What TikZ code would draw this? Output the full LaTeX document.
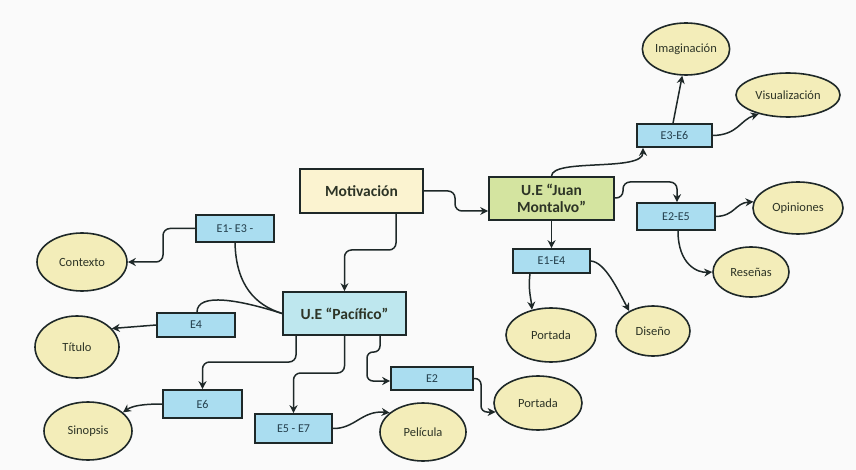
\documentclass[tikz,border=0pt]{standalone}
\usepackage{fontspec}
\setmainfont{Carlito}
\usetikzlibrary{shapes.geometric,arrows.meta}
\definecolor{ellfill}{RGB}{243,237,185}
\definecolor{boxfill}{RGB}{170,221,240}
\definecolor{pacfill}{RGB}{190,231,238}
\definecolor{jmfill}{RGB}{212,228,160}
\definecolor{motfill}{RGB}{251,243,208}
\definecolor{linecol}{RGB}{30,40,40}
\definecolor{txtcol}{RGB}{45,52,38}
\definecolor{boxtxt}{RGB}{35,62,75}
\definecolor{bgcol}{RGB}{250,250,250}
\tikzset{
  ellip/.style={ellipse, draw=linecol, line width=1.6pt, fill=ellfill, text=txtcol, inner sep=0pt, font=\fontsize{12.5}{14}\selectfont},
  ebox/.style={rectangle, draw=linecol, line width=1.6pt, fill=boxfill, text=boxtxt, inner sep=0pt, font=\fontsize{12}{14}\selectfont},
  mainbox/.style={rectangle, draw=linecol, line width=1.7pt, text=txtcol, inner sep=0pt, align=center, font=\fontsize{15.5}{16.5}\selectfont\bfseries},
  conn/.style={draw=linecol, line width=1.5pt, -{Stealth[length=8pt,width=8pt]}},
  plain/.style={draw=linecol, line width=1.5pt},
}
\begin{document}
\begin{tikzpicture}[x=1pt,y=-1pt]
\fill[bgcol] (0,0) rectangle (856,470);
\useasboundingbox (0,0) rectangle (856,470);
% main boxes
\node[mainbox, fill=motfill, minimum width=123pt, minimum height=44pt] (mot) at (361.5,191) {Motivación};
\node[mainbox, fill=jmfill, minimum width=125pt, minimum height=43pt] (jm) at (551.5,198.5) {U.E “Juan\\Montalvo”};
\node[mainbox, fill=pacfill, minimum width=123pt, minimum height=43pt] (pac) at (344.5,313.5) {U.E “Pacífico”};
% small boxes
\node[ebox, minimum width=78pt, minimum height=27pt] (e25) at (676,216.5) {E2-E5};
\node[ebox, minimum width=77pt, minimum height=24pt] (e14) at (551.5,261) {E1-E4};
\node[ebox, minimum width=75pt, minimum height=23pt] (e36) at (674.5,135.5) {E3-E6};
\node[ebox, minimum width=78pt, minimum height=27pt] (e13) at (235,228.5) {E1- E3 -};
\node[ebox, minimum width=78pt, minimum height=24pt] (e4) at (196,325) {E4};
\node[ebox, minimum width=79pt, minimum height=28pt] (e6) at (202.5,404) {E6};
\node[ebox, minimum width=77pt, minimum height=29pt] (e57) at (293.5,428.5) {E5 - E7};
\node[ebox, minimum width=82pt, minimum height=23pt] (e2) at (432,378.5) {E2};
% ellipses
\node[ellip, minimum width=80pt, minimum height=52pt] (imag) at (686,49) {Imaginación};
\node[ellip, minimum width=104pt, minimum height=44pt] (visu) at (788,95) {Visualización};
\node[ellip, minimum width=90pt, minimum height=52pt] (opin) at (798,208) {Opiniones};
\node[ellip, minimum width=76pt, minimum height=50pt] (resen) at (751,272) {Reseñas};
\node[ellip, minimum width=90pt, minimum height=54pt] (port1) at (551,335) {Portada};
\node[ellip, minimum width=74pt, minimum height=50pt] (dise) at (653,331) {Diseño};
\node[ellip, minimum width=90pt, minimum height=58pt] (cont) at (82,262) {Contexto};
\node[ellip, minimum width=84pt, minimum height=62pt] (titu) at (77,347) {Título};
\node[ellip, minimum width=88pt, minimum height=58pt] (sino) at (88,431) {Sinopsis};
\node[ellip, minimum width=86pt, minimum height=58pt] (peli) at (423,432) {Película};
\node[ellip, minimum width=88pt, minimum height=54pt] (port2) at (538,403) {Portada};
% connectors right side
\draw[conn, rounded corners=7pt] (mot.east) -| (455,211) -- (jm.west |- 0,211);
\draw[conn, rounded corners=7pt] (396,0 |- mot.south) -- (396,250) -| (pac.north);
\draw[conn] (jm.north) .. controls (552,158) and (643,172) .. (e36.south -| 643,0);
\draw[conn, rounded corners=7pt] (jm.east |- 0,198) -| (623,182) -| (e25.north -| 677,0);
\draw[conn] (jm.south) -- (e14.north);
\draw[conn] (e36.north -| 673,0) -- (imag.-98);
\draw[conn] (e36.east) .. controls (738,135) and (740,120) .. (visu.-147);
\draw[conn] (e25.east) .. controls (735,216) and (735,203) .. (opin.172);
\draw[conn] (e25.south -| 678,0) .. controls (678,265) and (698,273) .. (resen.west);
\draw[conn] (e14.south -| 530,0) .. controls (528,290) and (531,298) .. (port1.127);
\draw[conn] (e14.east) .. controls (605,262) and (618,290) .. (dise.140);
% connectors left side
\draw[plain] (e13.south -| 235,0) .. controls (236,285) and (255,305) .. (pac.west);
\draw[conn, rounded corners=7pt] (e13.west) -| (163,262) -- (cont.east);
\draw[plain] (pac.west) .. controls (240,300) and (197,292) .. (e4.north -| 197,0);
\draw[conn] (e4.west) -- (titu.28);
\draw[conn, rounded corners=7pt] (pac.south -| 296,0) -- (296,362) -| (e6.north);
\draw[conn, rounded corners=7pt] (pac.south) -- (344.5,373) -| (e57.north);
\draw[conn, rounded corners=6pt] (pac.south -| 380,0) -- (380,352) -| (367,381) -- (e2.west |- 0,381);
\draw[conn] (e6.west) .. controls (142,404) and (132,406) .. (sino.28);
\draw[conn] (e57.east) .. controls (355,429) and (362,410) .. (peli.150);
\draw[conn, rounded corners=6pt] (e2.east) -| (481,412) -- (port2.-168);
\end{tikzpicture}
\end{document}
